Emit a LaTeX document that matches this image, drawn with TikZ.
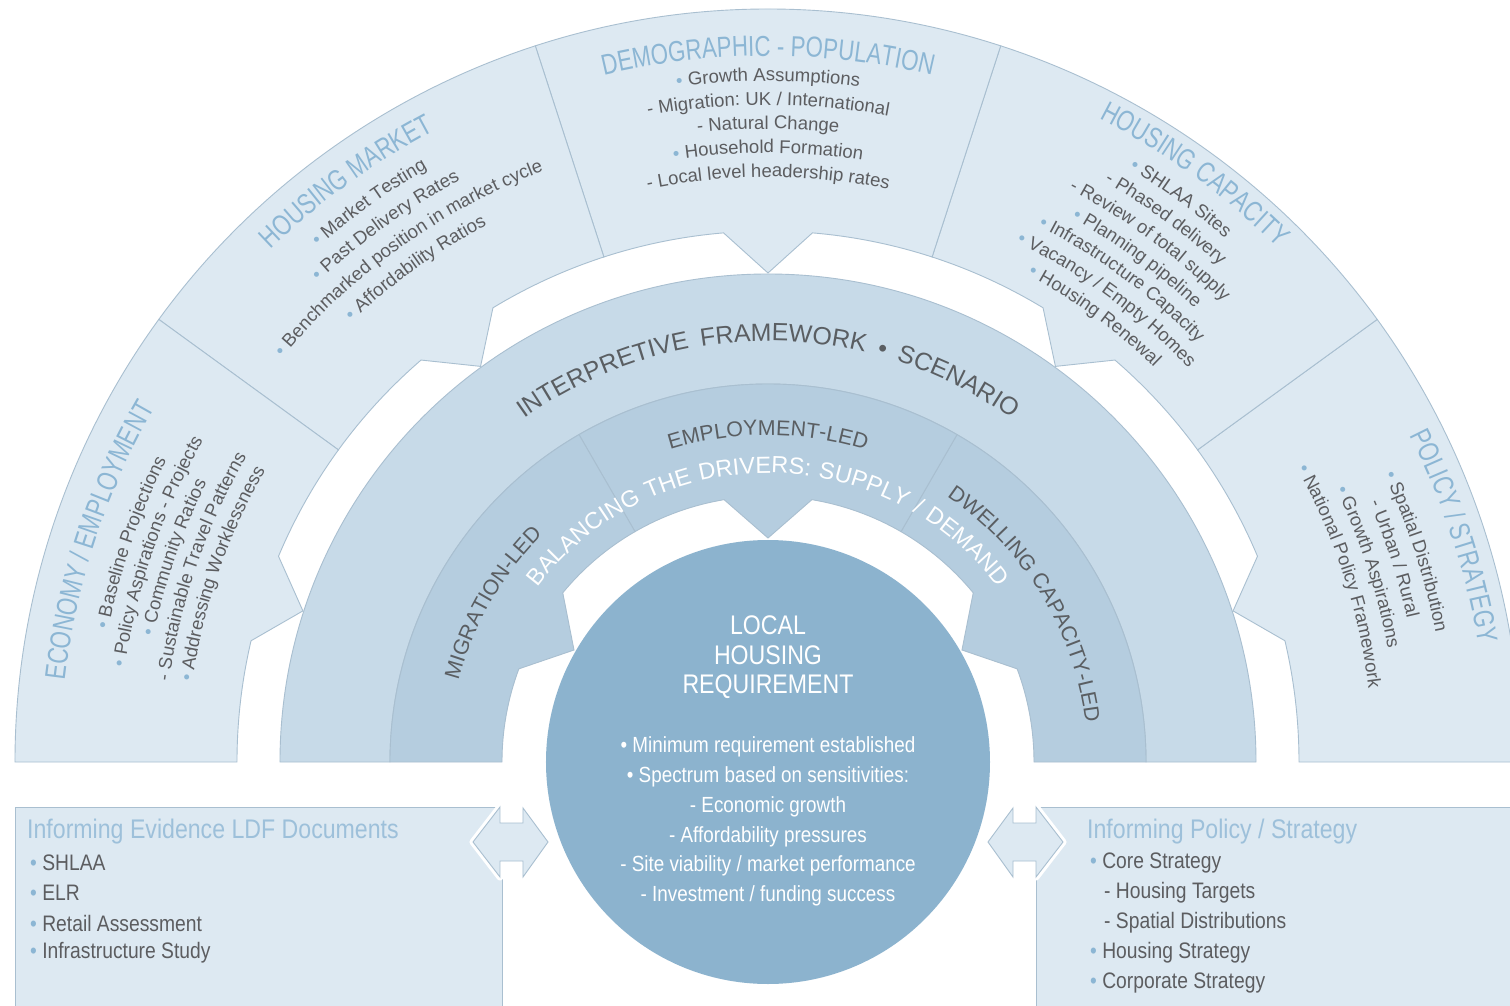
\documentclass[tikz,border=0pt]{standalone}
\usepackage{fontspec}
\setmainfont{Liberation Sans}[FakeStretch=0.86]
\newfontfamily\regfont{Liberation Sans}
\newfontfamily\bodyfont{Liberation Sans}
\newfontfamily\titlefont{Liberation Sans}[FakeStretch=0.77]
\newfontfamily\balfont{Liberation Sans}[LetterSpace=6]
\newfontfamily\spacedfont{Liberation Sans}[LetterSpace=20]
\usetikzlibrary{decorations.text}
\definecolor{outerfill}{HTML}{DDE9F2}
\definecolor{interpfill}{HTML}{C7DAE8}
\definecolor{innerfill}{HTML}{B5CDDF}
\definecolor{circfill}{HTML}{8CB3CE}
\definecolor{linecol}{HTML}{A9BFD0}
\definecolor{titleblue}{HTML}{8CB6D4}
\definecolor{boxblue}{HTML}{9DC0DA}
\definecolor{bodygray}{HTML}{5C5D60}
\definecolor{labelgray}{HTML}{5A5E62}
\definecolor{bulletblue}{HTML}{8CB6D4}
\newcommand\mybul{{\color{bulletblue}•}}
\newcommand\bodyfmt{\bodyfont\fontsize{18.6}{18.6}\selectfont\color{bodygray}}
\newcommand\bulfmt{\bodyfont\fontsize{18.6}{18.6}\selectfont\color{bulletblue}}
% a line of body text set along an arc round the centre
\newcommand\bline[3]{\path[decorate, decoration={text along path, text align=center, text color=bodygray, text={|\bodyfmt|#3}}] ({#1+45}:#2) arc[start angle={#1+45}, end angle={#1-45}, radius=#2];}
\newcommand\tline[3]{\path[decorate, decoration={text along path, text align=center, text color=titleblue, text={|\titlefont\fontsize{29}{29}\selectfont|#3}}] ({#1+24}:#2) arc[start angle={#1+24}, end angle={#1-24}, radius=#2];}
\begin{document}
\begin{tikzpicture}[x=1bp,y=1bp,
  ringline/.style={draw=linecol, line width=0.9bp},
  ctext/.style={align=center, text=white, inner sep=0pt},
  boxitem/.style={anchor=west, inner sep=0pt, text=bodygray, font=\fontsize{22.5}{26}\selectfont},
  boxtitle/.style={anchor=west, inner sep=0pt, text=boxblue, font=\fontsize{27}{30}\selectfont},
  dblarrow/.style={draw=linecol, fill=outerfill, line width=0.9bp, line join=miter},
  arrowhalo/.style={draw=white, line width=7bp, line join=round}
]
\useasboundingbox (-768,-243) rectangle (742,762);
\fill[white] (-768,-243) rectangle (742,762);

% outer ring segments
\foreach \a in {0,36,72,108,144}{
  \pgfmathsetmacro\b{\a+36}
  \pgfmathsetmacro\m{\a+18}
  \pgfmathsetmacro\ml{\m+4.8}
  \pgfmathsetmacro\mr{\m-4.8}
  \draw[ringline, fill=outerfill] (\a:753) arc[start angle=\a, end angle=\b, radius=753]
     -- (\b:531) arc[start angle=\b, end angle=\ml, radius=531]
     -- (\m:489) -- (\mr:531) arc[start angle=\mr, end angle=\a, radius=531] -- cycle;
}

% interpretive ring
\draw[ringline, fill=interpfill] (0:488) arc[start angle=0, end angle=180, radius=488]
   -- (180:378) arc[start angle=180, end angle=0, radius=378] -- cycle;

% inner ring segments
\foreach \a in {0,60,120}{
  \pgfmathsetmacro\b{\a+60}
  \pgfmathsetmacro\m{\a+30}
  \pgfmathsetmacro\ml{\m+9.5}
  \pgfmathsetmacro\mr{\m-9.5}
  \draw[ringline, fill=innerfill] (\a:378) arc[start angle=\a, end angle=\b, radius=378]
     -- (\b:266) arc[start angle=\b, end angle=\ml, radius=266]
     -- (\m:224) -- (\mr:266) arc[start angle=\mr, end angle=\a, radius=266] -- cycle;
}

% central circle
\node[circle, fill=circfill, minimum size=444bp, inner sep=0pt] (core) at (0,0) {};

% outer titles
\tline{90}{706}{DEMOGRAPHIC - POPULATION}
\tline{126}{714}{HOUSING MARKET}
\tline{54}{724}{HOUSING CAPACITY}
\tline{161.7}{708}{ECONOMY / EMPLOYMENT}
\tline{18.2}{720}{POLICY / STRATEGY}

% demographic - population
\bline{90}{681}{|\bulfmt|•|\bodyfmt| Growth Assumptions}
\bline{90}{657}{- Migration: UK / International}
\bline{90}{633}{- Natural Change}
\bline{90}{609}{|\bulfmt|•|\bodyfmt| Household Formation}
\bline{90}{585}{- Local level headership rates}

% housing market
\bline{125.5}{684}{|\bulfmt|•|\bodyfmt| Market Testing}
\bline{125.5}{658}{|\bulfmt|•|\bodyfmt| Past Delivery Rates}
\bline{125.5}{632}{|\bulfmt|•|\bodyfmt| Benchmarked position in market cycle}
\bline{125.5}{606}{|\bulfmt|•|\bodyfmt| Affordability Ratios}

% housing capacity
\bline{53.8}{695}{|\bulfmt|•|\bodyfmt| SHLAA Sites}
\bline{53.8}{671}{- Phased delivery}
\bline{53.8}{647}{- Review of total supply}
\bline{53.8}{623}{|\bulfmt|•|\bodyfmt| Planning pipeline}
\bline{53.8}{600}{|\bulfmt|•|\bodyfmt| Infrastructure Capacity}
\bline{53.8}{576}{|\bulfmt|•|\bodyfmt| Vacancy / Empty Homes}
\bline{53.8}{552}{|\bulfmt|•|\bodyfmt| Housing Renewal}

% economy / employment
\bline{161}{673}{|\bulfmt|•|\bodyfmt| Baseline Projections}
\bline{161}{650}{|\bulfmt|•|\bodyfmt| Policy Aspirations - Projects}
\bline{161}{627}{|\bulfmt|•|\bodyfmt| Community Ratios}
\bline{161}{604}{- Sustainable Travel Patterns}
\bline{161}{581}{|\bulfmt|•|\bodyfmt| Addressing Worklessness}

% policy / strategy
\bline{18}{680}{|\bulfmt|•|\bodyfmt| Spatial Distribution}
\bline{18}{655}{- Urban / Rural}
\bline{18}{630}{|\bulfmt|•|\bodyfmt| Growth Aspirations}
\bline{18}{605}{|\bulfmt|•|\bodyfmt| National Policy Framework}

% interpretive text
\path[decorate, decoration={text along path, text align=center, text color=labelgray,
  text={|\spacedfont\fontsize{25}{25}\selectfont|INTERPRETIVE FRAMEWORK • SCENARIO}}]
  (180:421) arc[start angle=180, end angle=0, radius=421];

% inner ring labels
\path[decorate, decoration={text along path, text align=center, text color=labelgray,
  text={|\regfont\fontsize{21.5}{21.5}\selectfont|EMPLOYMENT-LED}}]
  (120:327) arc[start angle=120, end angle=60, radius=327];
\path[decorate, decoration={text along path, text align=center, text color=labelgray,
  text={|\regfont\fontsize{21.5}{21.5}\selectfont|MIGRATION-LED}}]
  (180:320) arc[start angle=180, end angle=120, radius=320];
\path[decorate, decoration={text along path, text align=center, text color=labelgray,
  text={|\regfont\fontsize{21.5}{21.5}\selectfont|DWELLING CAPACITY-LED}}]
  (63:320) arc[start angle=63, end angle=0, radius=320];
\path[decorate, decoration={text along path, text align=center, text color=white,
  text={|\balfont\fontsize{23.5}{23.5}\selectfont|BALANCING THE DRIVERS: SUPPLY / DEMAND}}]
  (180:289) arc[start angle=180, end angle=0, radius=289];

% circle text
\node[ctext, font=\fontsize{27}{29.5}\selectfont] (lhr) at (0,104.5) {LOCAL\\HOUSING\\REQUIREMENT};
\node[ctext, font=\fontsize{22}{29.8}\selectfont] (lhrlist) at (0,-59.5) {• Minimum requirement established\\• Spectrum based on sensitivities:\\- Economic growth\\- Affordability pressures\\- Site viability / market performance\\- Investment / funding success};

% bottom boxes
\node[draw=linecol, fill=outerfill, line width=0.9bp, minimum width=487bp, minimum height=210bp, anchor=north west, inner sep=0pt] (lbox) at (-753,-45) {};
\node[draw=linecol, fill=outerfill, line width=0.9bp, minimum width=490bp, minimum height=210bp, anchor=north west, inner sep=0pt] (rbox) at (268,-45) {};

% double arrows
\draw[arrowhalo] (-295,-80) -- (-268,-45) -- (-268,-61) -- (-245,-61) -- (-245,-46) -- (-220,-80) -- (-245,-115) -- (-245,-99) -- (-268,-99) -- (-268,-115) -- cycle;
\draw[dblarrow] (-295,-80) -- (-268,-45) -- (-268,-61) -- (-245,-61) -- (-245,-46) -- (-220,-80) -- (-245,-115) -- (-245,-99) -- (-268,-99) -- (-268,-115) -- cycle;
\draw[arrowhalo] (295,-80) -- (268,-45) -- (268,-61) -- (245,-61) -- (245,-46) -- (220,-80) -- (245,-115) -- (245,-99) -- (268,-99) -- (268,-115) -- cycle;
\draw[dblarrow] (295,-80) -- (268,-45) -- (268,-61) -- (245,-61) -- (245,-46) -- (220,-80) -- (245,-115) -- (245,-99) -- (268,-99) -- (268,-115) -- cycle;

% box texts
\node[boxtitle] (ltitle) at (-741,-70) {Informing Evidence LDF Documents};
\node[boxitem] (l1) at (-738,-101) {\mybul\ SHLAA};
\node[boxitem] (l2) at (-738,-131) {\mybul\ ELR};
\node[boxitem] (l3) at (-738,-161) {\mybul\ Retail Assessment};
\node[boxitem] (l4) at (-738,-191) {\mybul\ Infrastructure Study};

\node[boxtitle] (rtitle) at (319,-70) {Informing Policy / Strategy};
\node[boxitem] (r1) at (322,-101) {\mybul\ Core Strategy};
\node[boxitem] (r2) at (336,-131) {- Housing Targets};
\node[boxitem] (r3) at (336,-161) {- Spatial Distributions};
\node[boxitem] (r4) at (322,-191) {\mybul\ Housing Strategy};
\node[boxitem] (r5) at (322,-221) {\mybul\ Corporate Strategy};
\end{tikzpicture}
\end{document}
